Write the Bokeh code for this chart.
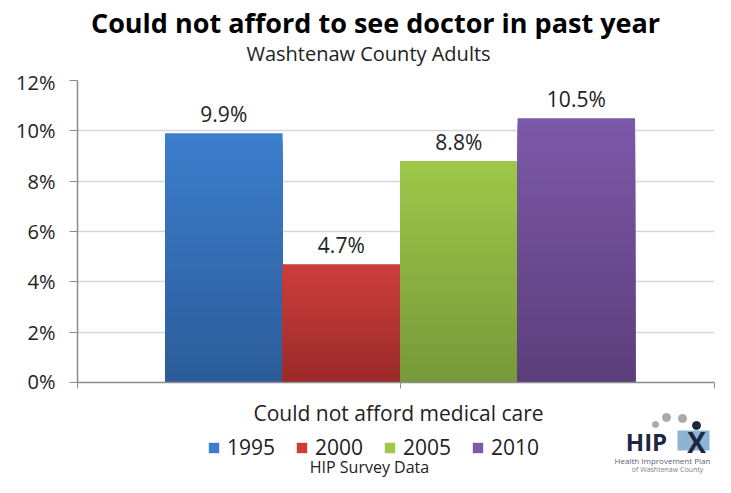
from bokeh.plotting import figure
from bokeh.layouts import column
from bokeh.models import (ColumnDataSource, Range1d, FixedTicker, NumeralTickFormatter,
                          Legend, LegendItem)
from bokeh.core.properties import value
from bokeh.embed import file_html
from bokeh.resources import INLINE

# ---- data ----
title = "Could not afford to see doctor in past year"
subtitle = "Washtenaw County Adults"
source_note = "HIP Survey Data"
category = "Could not afford medical care"
years = ["1995", "2000", "2005", "2010"]
rates = [0.099, 0.047, 0.088, 0.105]
labels = ["9.9%", "4.7%", "8.8%", "10.5%"]
y_ticks = [0, 0.02, 0.04, 0.06, 0.08, 0.10, 0.12]

top_colors = ["#3c7ecd", "#cd3e3b", "#9fc748", "#7c59a9"]
bot_colors = ["#2b5c98", "#9a2a2a", "#76993a", "#5c3e7b"]

FONT = "Open Sans"
TXT = "#222222"
W = 715
FL, FR = 77, 714   # frame left / right (picture px); column aligns frames


def mix(c1, c2, t):
    a = [int(c1[i:i + 2], 16) for i in (1, 3, 5)]
    b = [int(c2[i:i + 2], 16) for i in (1, 3, 5)]
    return "#%02x%02x%02x" % tuple(round(a[k] + (b[k] - a[k]) * t) for k in range(3))


def blank(h):
    f = figure(width=W, height=h, output_backend="svg", toolbar_location=None,
               x_range=Range1d(FL, FR), y_range=Range1d(h, 0),
               x_axis_type=None, y_axis_type=None,
               min_border_left=FL, min_border_right=W - FR,
               min_border_top=0, min_border_bottom=0)
    f.outline_line_color = None
    f.grid.visible = False
    return f


def txt(f, x, y, s, size, bold=False, color=TXT, align="center"):
    f.text(x=[x], y=[y], text=[s], text_font=value(FONT), text_font_size=size,
           text_font_style="bold" if bold else "normal", text_color=color,
           text_align=align, text_baseline="middle")


# ---- top: titles ----
HA = 68
top = blank(HA)
txt(top, 375, 22, title, "27px", bold=True, color="#000000")
txt(top, 368, 53, subtitle, "20px")

# ---- chart ----
HB = 326
half_l = 2.745
half_r = 2.676
centers = [-1.5, -0.5, 0.5, 1.5]
p = figure(width=W, height=HB, output_backend="svg", toolbar_location=None,
           x_range=Range1d(-half_l, half_r), y_range=Range1d(0, 0.12),
           min_border_left=FL, min_border_right=W - FR, min_border_top=12,
           min_border_bottom=12)
p.outline_line_color = None

N = 40
for i, (c, v) in enumerate(zip(centers, rates)):
    for k in range(N, 0, -1):
        t = 1 - (k - 0.5) / N
        p.vbar(x=[c], top=[v * k / N], bottom=[0], width=1.0,
               fill_color=mix(top_colors[i], bot_colors[i], t), line_color=None)

src = ColumnDataSource(dict(x=centers, y=rates, t=labels))
p.text(x="x", y="y", text="t", source=src, text_align="center", text_baseline="bottom",
       y_offset=-5, text_font=value(FONT), text_font_size="21px", text_color=TXT)

p.yaxis.ticker = FixedTicker(ticks=y_ticks)
p.yaxis.formatter = NumeralTickFormatter(format="0%")
p.yaxis.major_label_text_font = FONT
p.yaxis.major_label_text_font_size = "20px"
p.yaxis.major_label_text_color = TXT
p.yaxis.axis_line_color = "#8c8c8c"
p.yaxis.axis_line_width = 1.5
p.yaxis.major_tick_line_color = "#8c8c8c"
p.yaxis.major_tick_in = 0
p.yaxis.major_tick_out = 8
p.yaxis.minor_tick_line_color = None
p.yaxis.major_label_standoff = 14

xt = [-half_l, 0, half_r]
p.xaxis.ticker = FixedTicker(ticks=xt)
p.xaxis.major_label_overrides = {t: "" for t in xt}
p.xaxis.major_label_standoff = 0
p.xaxis.axis_line_color = "#8c8c8c"
p.xaxis.axis_line_width = 1.5
p.xaxis.major_tick_line_color = "#8c8c8c"
p.xaxis.major_tick_in = 0
p.xaxis.major_tick_out = 6
p.xaxis.minor_tick_line_color = None

p.xgrid.grid_line_color = None
p.ygrid.ticker = FixedTicker(ticks=y_ticks)
p.ygrid.grid_line_color = "#d6d6d6"
p.ygrid.grid_line_width = 1.5

# ---- bottom: category label, legend, source, logo ----
HC = 477 - HA - HB
bot = blank(HC)
txt(bot, 398, 18, category, "21px")
txt(bot, 369, 72, source_note, "16px")

items = []
for i, yr in enumerate(years):
    # swatch renderers sit outside the visible frame; only their legend glyph shows
    r = bot.quad(left=[0], right=[1], top=[-10], bottom=[-9], fill_color=top_colors[i],
                 line_color=None)
    items.append(LegendItem(label=yr, renderers=[r]))
leg = Legend(items=items, orientation="horizontal", location=(130, 16),
             label_text_font=FONT, label_text_font_size="21px", label_text_color=TXT,
             border_line_color=None, background_fill_alpha=0, spacing=20,
             glyph_width=13, glyph_height=13, label_standoff=7, padding=0, margin=0,
             label_height=20)
bot.add_layout(leg)

# logo (approximation of the HIP mark)
bot.scatter(x=[655, 666, 682], y=[30, 23, 24], size=[6, 8, 8], color="#a9a9a9")
bot.quad(left=[677], right=[709], top=[36], bottom=[56], fill_color="#8db4d3",
         line_color=None)
txt(bot, 646, 47, "HIP", "24px", bold=True, color="#1c2740")
txt(bot, 696, 47, "X", "28px", bold=True, color="#1c2740")
bot.scatter(x=[696], y=[31], size=8, color="#1c2740")
txt(bot, 663, 66, "Health Improvement  Plan", "8px", color="#5a6270")
txt(bot, 667, 75, "of Washtenaw County", "7px", color="#7a818c")

layout = column(top, p, bot, spacing=0)

out = open("out.html", "w")
out.write(file_html(layout, INLINE))
out.close()
